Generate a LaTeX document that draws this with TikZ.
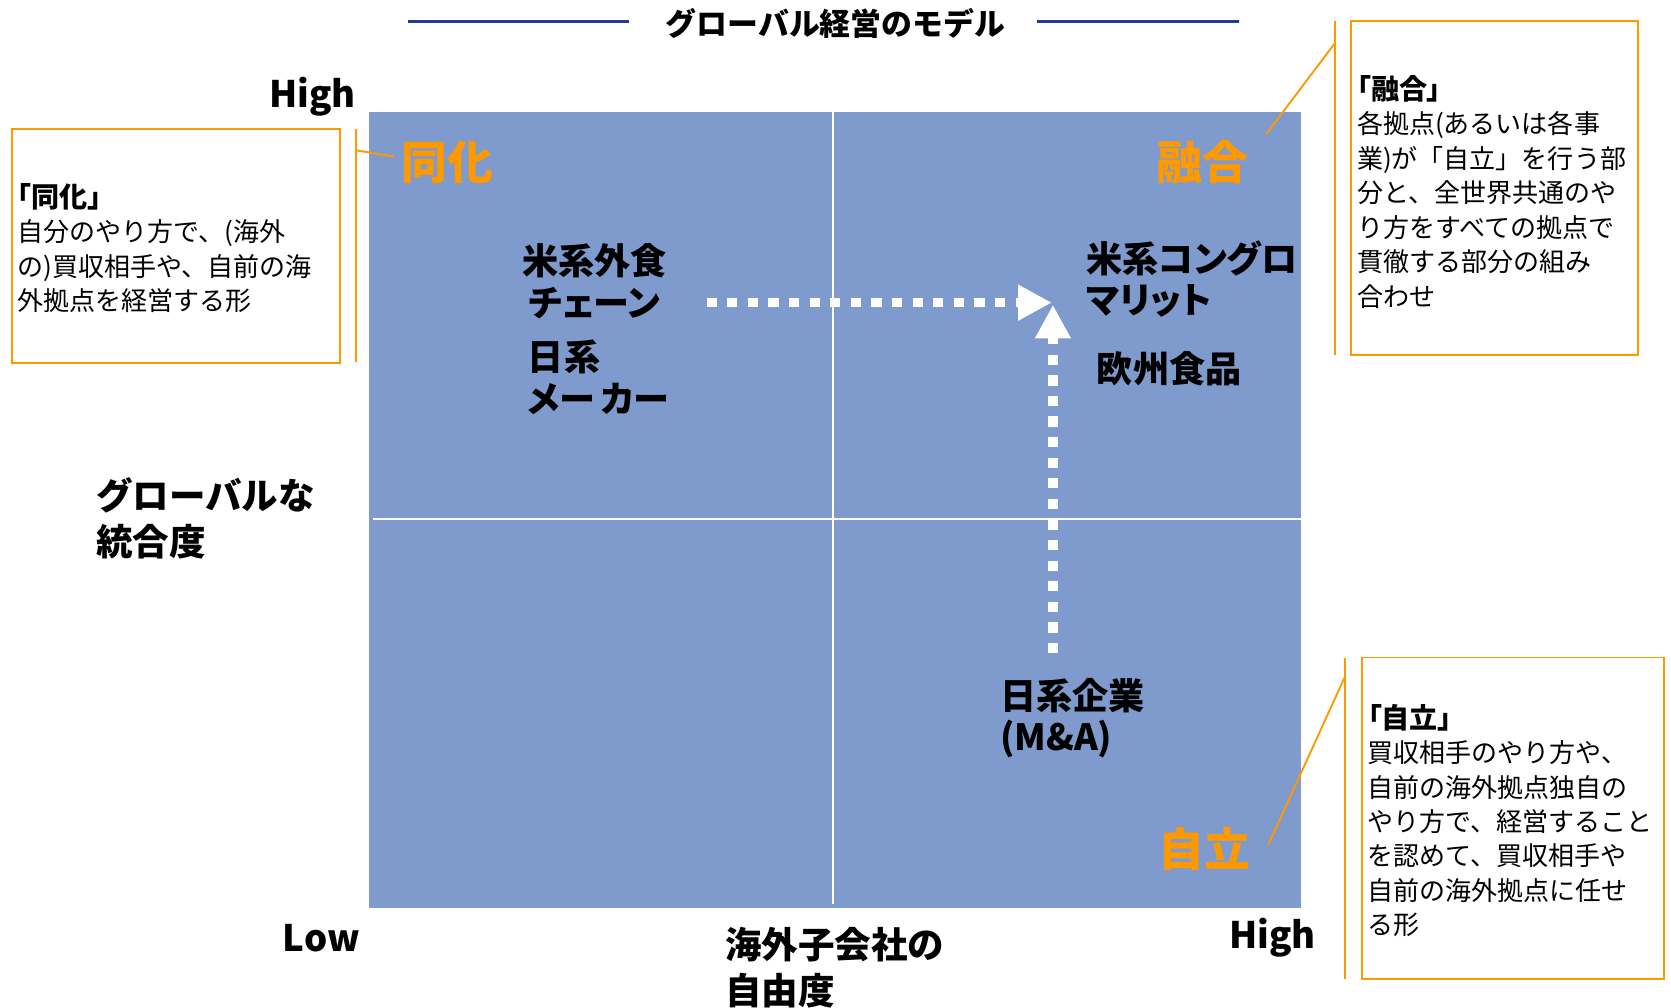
\documentclass[tikz,border=0pt]{standalone}
\usepackage{fontspec}
\setmainfont{Noto Sans CJK JP}
\newfontfamily\paltfont{Noto Sans CJK JP}[RawFeature=+palt]
\usetikzlibrary{arrows.meta}
\definecolor{quadblue}{RGB}{127,154,204}
\definecolor{calloutorange}{RGB}{255,153,0}
\definecolor{titleblue}{RGB}{32,56,150}
\newcommand{\calloutheading}[1]{{\paltfont\fontsize{15}{18}\selectfont\bfseries #1}}
\begin{document}
\begin{tikzpicture}[x=0.02cm, y=-0.02cm,
  titleline/.style={titleblue, line width=1.5pt},
  divider/.style={white, line width=1.1pt},
  quadname/.style={calloutorange, font=\fontsize{24.5}{28}\selectfont\bfseries},
  firmname/.style={font=\paltfont\fontsize{19.3}{22.2}\selectfont\bfseries, inner sep=0pt},
  axisname/.style={font=\fontsize{19.5}{24.5}\selectfont\bfseries, inner sep=0pt},
  calloutbox/.style={calloutorange, line width=1pt},
  callouttext/.style={font=\fontsize{13.9}{18.4}\selectfont, align=left, anchor=west, inner sep=0pt},
  moveline/.style={white, line width=5pt, dash pattern=on 5.5pt off 5.5pt, -{Triangle[length=18pt,width=18pt]}}]
\useasboundingbox (0,0) rectangle (1568,945);
\node[font=\fontsize{16.5}{20}\selectfont\bfseries] (title) at (784,22) {グローバル経営のモデル};
\draw[titleline] (383,20) -- (590,20);
\draw[titleline] (973,20) -- (1163,20);
\fill[quadblue] (346,105) rectangle (1221,852);
\draw[divider] (782,105) -- (782,848);
\draw[divider] (350,487) -- (1221,487);
\node[axisname, anchor=east] (yhigh) at (334,91) {High};
\node[axisname, anchor=east] (xlow) at (338,880) {Low};
\node[axisname] (xhigh) at (1194,880) {High};
\node[axisname, align=left, anchor=west] (yaxis) at (90,486) {グローバルな\\統合度};
\node[axisname, align=left, anchor=west] (xaxis) at (680,908) {海外子会社の\\自由度};
\node[quadname] (dohka) at (420,152) {同化};
\node[quadname] (yugo) at (1128,152) {融合};
\node[quadname] (jiritsu) at (1130,797) {自立};
\node[firmname, align=center] (uschain) at (558,264) {米系外食\\チェーン};
\node[firmname, align=left, anchor=west] (jpmaker) at (495,354) {日系\\メー\kern3pt カー};
\node[firmname, align=left, anchor=west] (usconglo) at (1019,262) {米系コングロ\\マリット};
\node[firmname, anchor=west] (eufood) at (1029,346) {欧州食品};
\node[firmname, align=left, anchor=west] (jpfirm) at (938,674) {日系企業\\(M\&A)};
\coordinate (hstart) at (663,284);
\coordinate (hend) at (987,284);
\coordinate (vstart) at (988,613);
\coordinate (vend) at (988,286);
\draw[moveline] (hstart) -- (hend);
\draw[moveline] (vstart) -- (vend);
\draw[calloutbox] (11,121) rectangle (319,341);
\draw[calloutbox] (334,121) -- (334,340);
\draw[calloutbox] (334,141) -- (370,147);
\node[callouttext] (dohkanote) at (16,233) {\calloutheading{「同化」}\\自分のやり方で、(海外\\の)買収相手や、自前の海\\外拠点を経営する形};
\draw[calloutbox] (1268,20) rectangle (1537,333);
\draw[calloutbox] (1253,20) -- (1253,333);
\draw[calloutbox] (1253,40) -- (1188,126);
\node[callouttext] (yugonote) at (1273,180) {\calloutheading{「融合」}\\各拠点(あるいは各事\\業)が「自立」を行う部\\分と、全世界共通のや\\り方をすべての拠点で\\貫徹する部分の組み\\合わせ};
\draw[calloutbox] (1278,617) rectangle (1561,919);
\draw[calloutbox] (1262,617) -- (1262,919);
\draw[calloutbox] (1262,635) -- (1190,793);
\node[callouttext] (jiritsunote) at (1283,770) {\calloutheading{「自立」}\\買収相手のやり方や、\\自前の海外拠点独自の\\やり方で、経営すること\\を認めて、買収相手や\\自前の海外拠点に任せ\\る形};
\end{tikzpicture}
\end{document}
